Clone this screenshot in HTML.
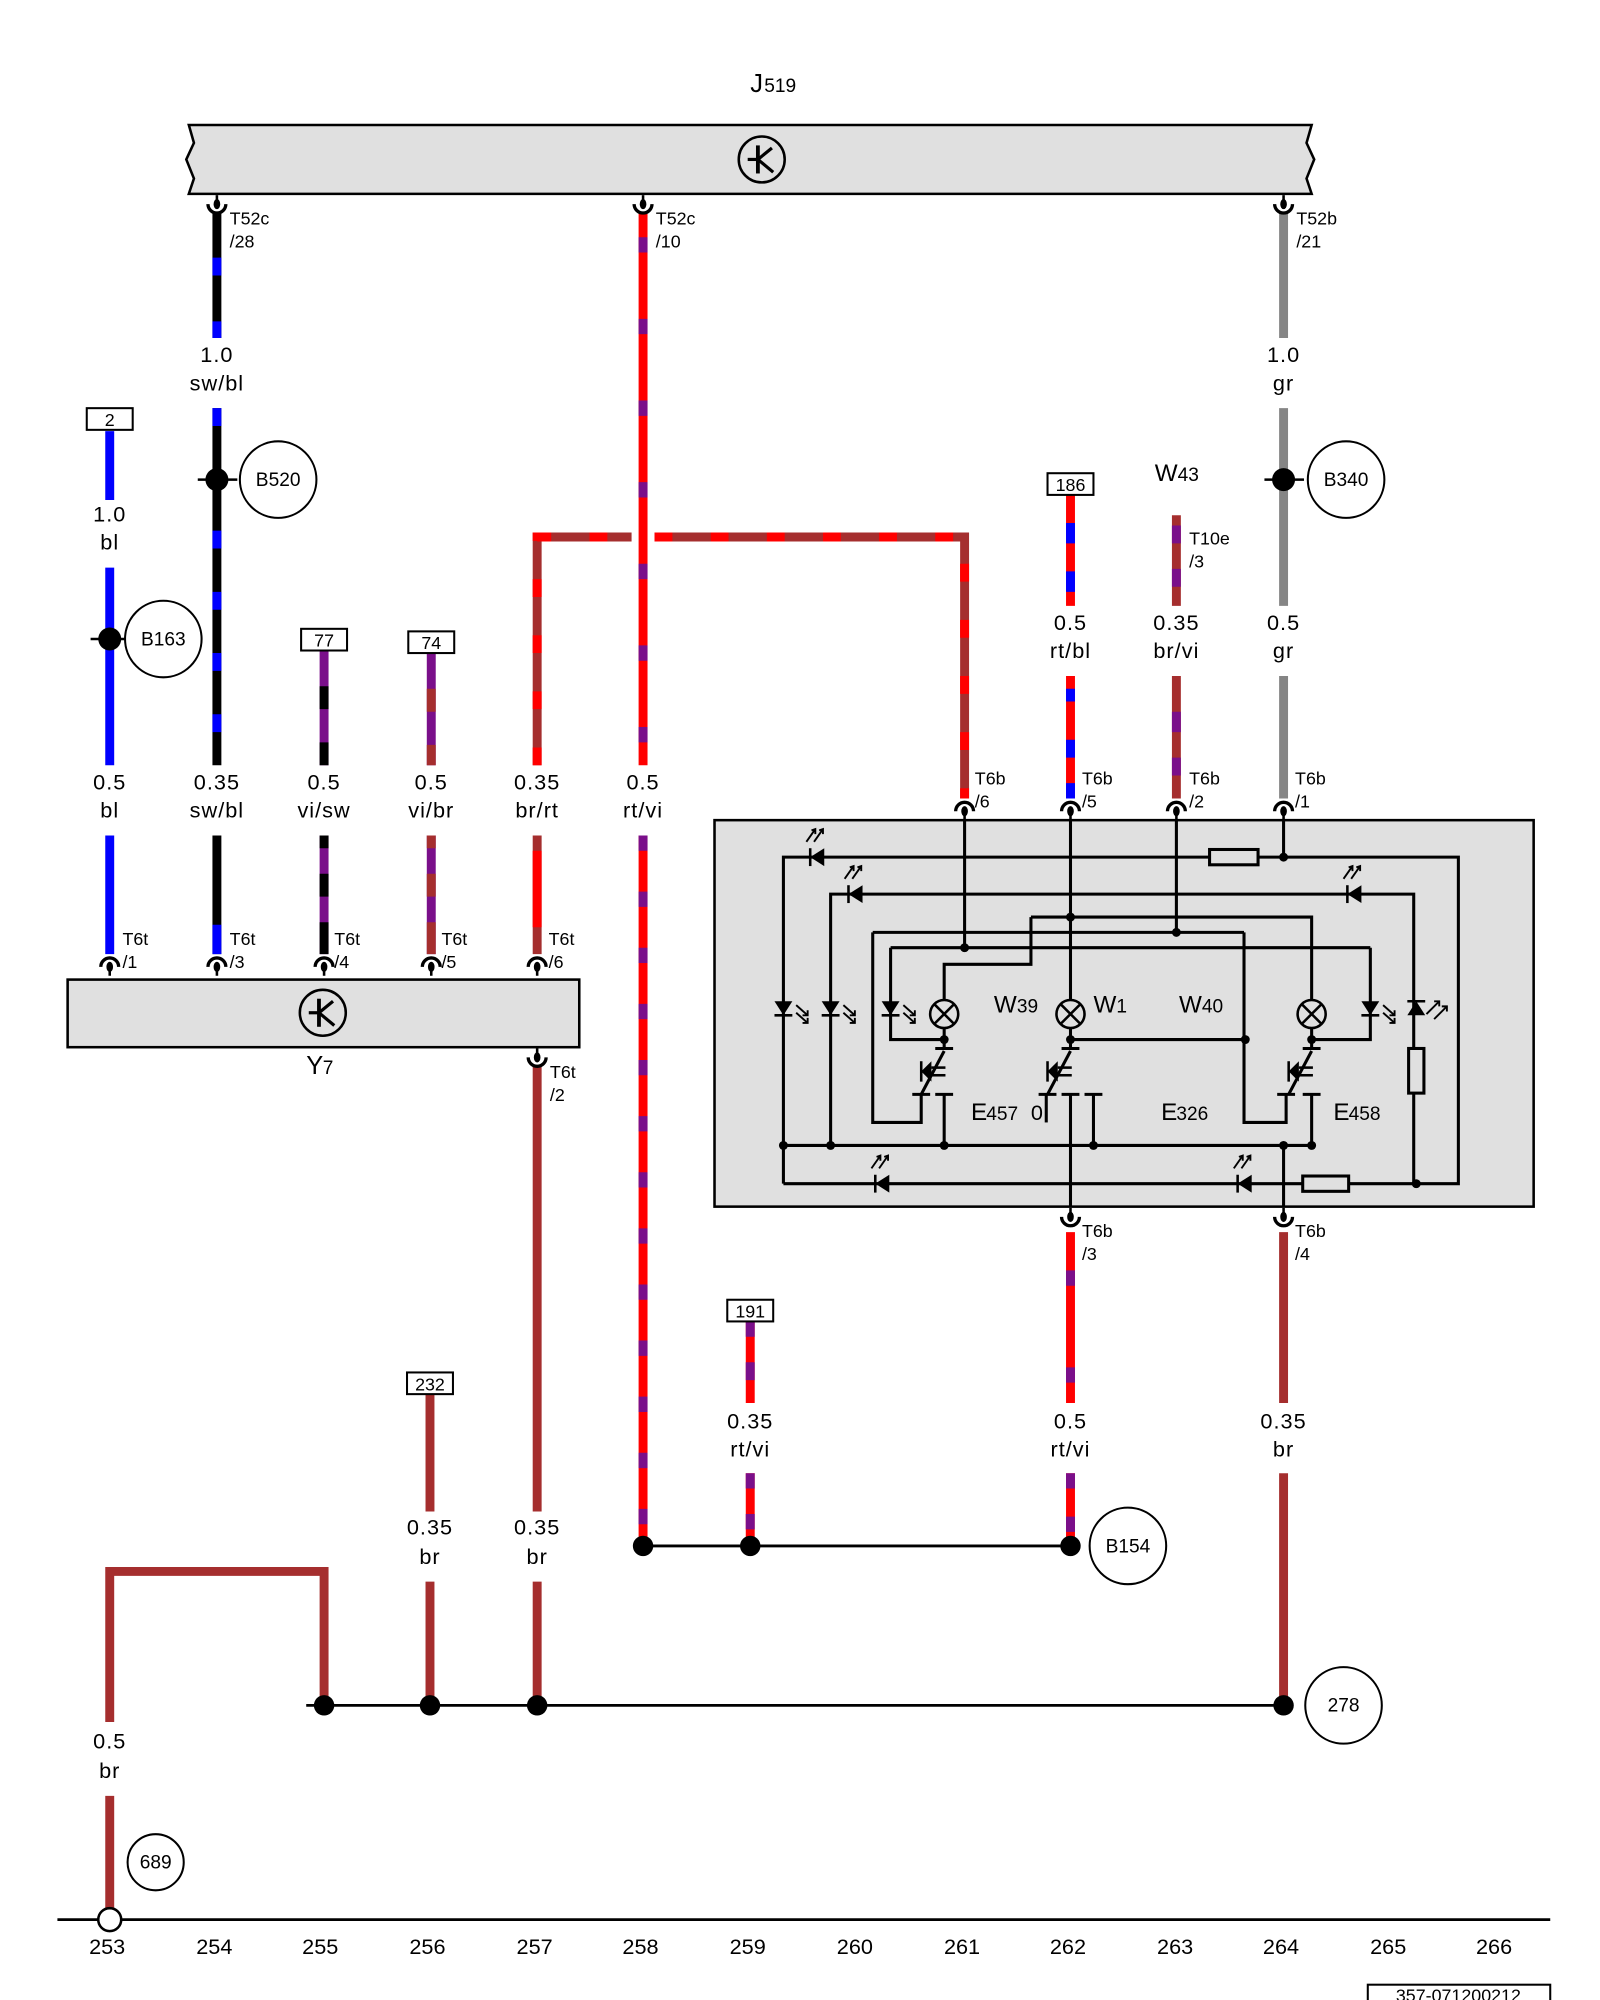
<!DOCTYPE html>
<html><head><meta charset="utf-8"><style>
html,body{margin:0;padding:0;background:#fff}
svg{display:block}
text{font-family:"Liberation Sans",Arial,sans-serif;fill:#000}
.l{font-size:17px;text-anchor:middle;letter-spacing:0.8px}
.s{font-size:14px}
.n{font-size:16px;text-anchor:middle}
.t{stroke:#000;stroke-width:2;fill:none}
.tb{stroke:#000;stroke-width:2.4;fill:none}
</style></head><body>
<svg width="1600" height="2000" viewBox="0 0 1254 1568" preserveAspectRatio="none" xmlns="http://www.w3.org/2000/svg">
<defs>
<g id="sym"><circle cx="0" cy="0" r="18" fill="none" stroke="#000" stroke-width="2"/><line x1="-3" y1="-11" x2="-3" y2="11" stroke="#000" stroke-width="3"/><line x1="-11" y1="0" x2="-3" y2="0" stroke="#000" stroke-width="2.5"/><line x1="-3" y1="0" x2="8" y2="-9" stroke="#000" stroke-width="2.5"/><line x1="-3" y1="0" x2="9" y2="10" stroke="#000" stroke-width="2.5"/></g>
<g id="cd"><path d="M-7,6 A7 7 0 0 1 7,6" fill="none" stroke="#000" stroke-width="2.6"/><ellipse cx="0" cy="6" rx="2.6" ry="4" fill="#000"/><line x1="0" y1="6" x2="0" y2="13" stroke="#000" stroke-width="2"/></g>
<g id="cu"><path d="M-7,-6 A7 7 0 0 0 7,-6" fill="none" stroke="#000" stroke-width="2.6"/><ellipse cx="0" cy="-6" rx="2.6" ry="4" fill="#000"/><line x1="0" y1="-6" x2="0" y2="-13" stroke="#000" stroke-width="2"/></g>
<g id="dl"><path d="M5,-7 L5,7 L-6,0 Z" fill="#000"/><line x1="-6" y1="-7" x2="-6" y2="7" stroke="#000" stroke-width="2"/><g stroke="#000" stroke-width="1.5" fill="none"><line x1="-9" y1="-12" x2="-2" y2="-22"/><line x1="-3" y1="-12" x2="4" y2="-22"/><path d="M-5,-21 L-2,-22 L-2,-18 M1,-21 L4,-22 L4,-18"/></g></g>
<g id="dd"><path d="M-7,-6 L7,-6 L0,5 Z" fill="#000"/><line x1="-7" y1="5" x2="7" y2="5" stroke="#000" stroke-width="2"/><g stroke="#000" stroke-width="1.5" fill="none"><line x1="10" y1="-3" x2="19" y2="5"/><line x1="10" y1="3" x2="19" y2="11"/><path d="M19,1 L19,5 L15,5 M19,7 L19,11 L15,11"/></g></g>
<g id="lamp"><circle r="11" fill="none" stroke="#000" stroke-width="2"/><line x1="-8" y1="-8" x2="8" y2="8" stroke="#000" stroke-width="2"/><line x1="-8" y1="8" x2="8" y2="-8" stroke="#000" stroke-width="2"/></g>
<g id="act"><path d="M-7,-8 L-7,8 L-15,0 Z" fill="#000"/><line x1="-7" y1="-3" x2="4" y2="-3" stroke="#000" stroke-width="2"/><line x1="-7" y1="3" x2="4" y2="3" stroke="#000" stroke-width="2"/><line x1="-15" y1="-8" x2="-15" y2="8" stroke="#000" stroke-width="2"/></g>
</defs>

<!-- J519 -->
<text x="588" y="72" style="font-size:20px">J</text><text x="599" y="72" style="font-size:15px">519</text>
<path d="M148,98 L1028,98 L1024,112 L1030,125 L1024,140 L1028,152 L148,152 L152,140 L146,125 L152,112 Z" fill="#e0e0e0" stroke="#000" stroke-width="2"/>
<use href="#sym" x="597" y="125"/>

<!-- wires: column 170 sw/bl -->
<g stroke-width="7">
<line x1="170" y1="166" x2="170" y2="265" stroke="#000"/><line x1="170" y1="166" x2="170" y2="265" stroke="#00f" stroke-dasharray="0 36 14 0"/>
<line x1="170" y1="320" x2="170" y2="600" stroke="#000"/><line x1="170" y1="320" x2="170" y2="600" stroke="#00f" stroke-dasharray="14 34"/>
<line x1="170" y1="655" x2="170" y2="748" stroke="#000"/><line x1="170" y1="655" x2="170" y2="748" stroke="#00f" stroke-dasharray="0 70 25 100"/>
<!-- col 86 bl -->
<line x1="86" y1="338" x2="86" y2="392" stroke="#00f"/>
<line x1="86" y1="445" x2="86" y2="600" stroke="#00f"/>
<line x1="86" y1="655" x2="86" y2="748" stroke="#00f"/>
<!-- col 254 vi/sw -->
<line x1="254" y1="510" x2="254" y2="600" stroke="#7a0f8a"/><line x1="254" y1="510" x2="254" y2="600" stroke="#000" stroke-dasharray="0 28 18 26 18 20"/>
<line x1="254" y1="655" x2="254" y2="748" stroke="#7a0f8a"/><line x1="254" y1="655" x2="254" y2="748" stroke="#000" stroke-dasharray="10 20 18 20 30 20"/>
<!-- col 338 vi/br -->
<line x1="338" y1="512" x2="338" y2="600" stroke="#7a0f8a"/><line x1="338" y1="512" x2="338" y2="600" stroke="#a52e2e" stroke-dasharray="0 28 18 26 18 20"/>
<line x1="338" y1="655" x2="338" y2="748" stroke="#7a0f8a"/><line x1="338" y1="655" x2="338" y2="748" stroke="#a52e2e" stroke-dasharray="10 20 18 20 30 20"/>
<!-- col 421 br/rt and horizontal -->
<path d="M421,600 L421,421 L495,421" fill="none" stroke="#a52e2e"/>
<path d="M421,600 L421,421 L495,421" fill="none" stroke="#f00" stroke-dasharray="14 30"/>
<path d="M513,421 L756,421 L756,626" fill="none" stroke="#a52e2e"/>
<path d="M513,421 L756,421 L756,626" fill="none" stroke="#f00" stroke-dasharray="14 30"/>
<line x1="421" y1="655" x2="421" y2="748" stroke="#a52e2e"/><line x1="421" y1="655" x2="421" y2="748" stroke="#f00" stroke-dasharray="0 12 60 100"/>
<!-- col 504 rt/vi -->
<line x1="504" y1="166" x2="504" y2="600" stroke="#f00"/><line x1="504" y1="166" x2="504" y2="600" stroke="#7a0f8a" stroke-dasharray="0 20 12 32"/>
<line x1="504" y1="655" x2="504" y2="1212" stroke="#f00"/><line x1="504" y1="655" x2="504" y2="1212" stroke="#7a0f8a" stroke-dasharray="12 32"/>
<!-- col 1006 gr -->
<line x1="1006" y1="166" x2="1006" y2="265" stroke="#858585"/>
<line x1="1006" y1="320" x2="1006" y2="475" stroke="#858585"/>
<line x1="1006" y1="530" x2="1006" y2="626" stroke="#858585"/>
<!-- col 839 rt/bl -->
<line x1="839" y1="388" x2="839" y2="475" stroke="#f00"/><line x1="839" y1="388" x2="839" y2="475" stroke="#00f" stroke-dasharray="0 22 16 22 16 20"/>
<line x1="839" y1="530" x2="839" y2="626" stroke="#f00"/><line x1="839" y1="530" x2="839" y2="626" stroke="#00f" stroke-dasharray="0 10 10 30 14 20 12"/>
<!-- col 922 br/vi -->
<line x1="922" y1="404" x2="922" y2="475" stroke="#a52e2e"/><line x1="922" y1="404" x2="922" y2="475" stroke="#7a0f8a" stroke-dasharray="0 8 14 20 14 20"/>
<line x1="922" y1="530" x2="922" y2="626" stroke="#a52e2e"/><line x1="922" y1="530" x2="922" y2="626" stroke="#7a0f8a" stroke-dasharray="0 28 16 20 14 30"/>
<!-- bottom wires -->
<line x1="421" y1="836" x2="421" y2="1185" stroke="#a52e2e"/>
<line x1="421" y1="1240" x2="421" y2="1337" stroke="#a52e2e"/>
<line x1="337" y1="1093" x2="337" y2="1185" stroke="#a52e2e"/>
<line x1="337" y1="1240" x2="337" y2="1337" stroke="#a52e2e"/>
<line x1="588" y1="1036" x2="588" y2="1100" stroke="#f00"/><line x1="588" y1="1036" x2="588" y2="1100" stroke="#7a0f8a" stroke-dasharray="0 0 12 20 14 30"/>
<line x1="588" y1="1155" x2="588" y2="1212" stroke="#f00"/><line x1="588" y1="1155" x2="588" y2="1212" stroke="#7a0f8a" stroke-dasharray="12 20 12 30"/>
<line x1="839" y1="966" x2="839" y2="1100" stroke="#f00"/><line x1="839" y1="966" x2="839" y2="1100" stroke="#7a0f8a" stroke-dasharray="0 30 12 34"/>
<line x1="839" y1="1155" x2="839" y2="1212" stroke="#f00"/><line x1="839" y1="1155" x2="839" y2="1212" stroke="#7a0f8a" stroke-dasharray="12 22 12 40"/>
<line x1="1006" y1="966" x2="1006" y2="1100" stroke="#a52e2e"/>
<line x1="1006" y1="1155" x2="1006" y2="1337" stroke="#a52e2e"/>
<path d="M254,1337 L254,1232 L86,1232 L86,1350" fill="none" stroke="#a52e2e"/>
<line x1="86" y1="1408" x2="86" y2="1500" stroke="#a52e2e"/>
</g>

<!-- connectors J519 -->
<use href="#cu" x="170" y="166"/><use href="#cu" x="504" y="166"/><use href="#cu" x="1006" y="166"/>
<text class="s" x="180" y="176">T52c</text><text class="s" x="180" y="194">/28</text>
<text class="s" x="514" y="176">T52c</text><text class="s" x="514" y="194">/10</text>
<text class="s" x="1016" y="176">T52b</text><text class="s" x="1016" y="194">/21</text>

<!-- wire labels -->
<text class="l" x="170" y="284">1.0</text><text class="l" x="170" y="306">sw/bl</text>
<text class="l" x="86" y="409">1.0</text><text class="l" x="86" y="431">bl</text>
<text class="l" x="1006" y="284">1.0</text><text class="l" x="1006" y="306">gr</text>
<text class="l" x="86" y="619">0.5</text><text class="l" x="86" y="641">bl</text>
<text class="l" x="170" y="619">0.35</text><text class="l" x="170" y="641">sw/bl</text>
<text class="l" x="254" y="619">0.5</text><text class="l" x="254" y="641">vi/sw</text>
<text class="l" x="338" y="619">0.5</text><text class="l" x="338" y="641">vi/br</text>
<text class="l" x="421" y="619">0.35</text><text class="l" x="421" y="641">br/rt</text>
<text class="l" x="504" y="619">0.5</text><text class="l" x="504" y="641">rt/vi</text>
<text class="l" x="839" y="494">0.5</text><text class="l" x="839" y="516">rt/bl</text>
<text class="l" x="922" y="494">0.35</text><text class="l" x="922" y="516">br/vi</text>
<text class="l" x="1006" y="494">0.5</text><text class="l" x="1006" y="516">gr</text>
<text class="l" x="588" y="1120">0.35</text><text class="l" x="588" y="1142">rt/vi</text>
<text class="l" x="839" y="1120">0.5</text><text class="l" x="839" y="1142">rt/vi</text>
<text class="l" x="1006" y="1120">0.35</text><text class="l" x="1006" y="1142">br</text>
<text class="l" x="337" y="1203">0.35</text><text class="l" x="337" y="1226">br</text>
<text class="l" x="421" y="1203">0.35</text><text class="l" x="421" y="1226">br</text>
<text class="l" x="86" y="1371">0.5</text><text class="l" x="86" y="1394">br</text>

<!-- boxes -->
<g fill="#fff" stroke="#000" stroke-width="1.6">
<rect x="68" y="320" width="36" height="17"/><rect x="236" y="493" width="36" height="17"/><rect x="320" y="495" width="36" height="17"/>
<rect x="821" y="371" width="36" height="17"/><rect x="570" y="1019" width="36" height="17"/><rect x="319" y="1076" width="36" height="17"/>
</g>
<g class="n" style="font-size:14px">
<text x="86" y="334" text-anchor="middle">2</text><text x="254" y="507" text-anchor="middle">77</text><text x="338" y="509" text-anchor="middle">74</text>
<text x="839" y="385" text-anchor="middle">186</text><text x="588" y="1033" text-anchor="middle">191</text><text x="337" y="1090" text-anchor="middle">232</text>
</g>
<text x="905" y="377" style="font-size:19px">W</text><text x="923" y="377" style="font-size:15px">43</text>
<text class="s" x="932" y="427">T10e</text><text class="s" x="932" y="445">/3</text>

<!-- splices -->
<g stroke="#000" stroke-width="2">
<line x1="155" y1="376" x2="186" y2="376"/><line x1="71" y1="501" x2="102" y2="501"/><line x1="991" y1="376" x2="1022" y2="376"/>
</g>
<circle cx="170" cy="376" r="9" fill="#000"/><circle cx="86" cy="501" r="9" fill="#000"/><circle cx="1006" cy="376" r="9" fill="#000"/>
<g fill="#fff" stroke="#000" stroke-width="1.6">
<circle cx="218" cy="376" r="30"/><circle cx="128" cy="501" r="30"/><circle cx="1055" cy="376" r="30"/>
<circle cx="884" cy="1212" r="30"/><circle cx="1053" cy="1337" r="30"/><circle cx="122" cy="1460" r="22"/>
</g>
<g class="n" style="font-size:15px">
<text x="218" y="381">B520</text><text x="128" y="506">B163</text><text x="1055" y="381">B340</text>
<text x="884" y="1217">B154</text><text x="1053" y="1342">278</text><text x="122" y="1465">689</text>
</g>

<!-- Y7 -->
<rect x="53" y="768" width="401" height="53" fill="#e0e0e0" stroke="#000" stroke-width="2"/>
<use href="#sym" x="253" y="794"/>
<text x="240" y="842" style="font-size:20px">Y</text><text x="253" y="842" style="font-size:15px">7</text>
<use href="#cd" x="86" y="752"/><use href="#cd" x="170" y="752"/><use href="#cd" x="254" y="752"/><use href="#cd" x="338" y="752"/><use href="#cd" x="421" y="752"/>
<text class="s" x="96" y="741">T6t</text><text class="s" x="96" y="759">/1</text>
<text class="s" x="180" y="741">T6t</text><text class="s" x="180" y="759">/3</text>
<text class="s" x="262" y="741">T6t</text><text class="s" x="262" y="759">/4</text>
<text class="s" x="346" y="741">T6t</text><text class="s" x="346" y="759">/5</text>
<text class="s" x="430" y="741">T6t</text><text class="s" x="430" y="759">/6</text>
<use href="#cu" x="421" y="835"/>
<text class="s" x="431" y="845">T6t</text><text class="s" x="431" y="863">/2</text>

<!-- inner module -->
<rect x="560" y="643" width="642" height="303" fill="#e0e0e0" stroke="#000" stroke-width="2"/>
<use href="#cd" x="756" y="630"/><use href="#cd" x="839" y="630"/><use href="#cd" x="922" y="630"/><use href="#cd" x="1006" y="630"/>
<text class="s" x="764" y="615">T6b</text><text class="s" x="764" y="633">/6</text>
<text class="s" x="848" y="615">T6b</text><text class="s" x="848" y="633">/5</text>
<text class="s" x="932" y="615">T6b</text><text class="s" x="932" y="633">/2</text>
<text class="s" x="1015" y="615">T6b</text><text class="s" x="1015" y="633">/1</text>
<use href="#cu" x="839" y="960"/><use href="#cu" x="1006" y="960"/>
<text class="s" x="848" y="970">T6b</text><text class="s" x="848" y="988">/3</text>
<text class="s" x="1015" y="970">T6b</text><text class="s" x="1015" y="988">/4</text>

<g class="tb">
<path d="M1006,643 L1006,672"/>
<path d="M614,928 L614,672 L948,672 M986,672 L1143,672 L1143,928 L1057,928 M1021,928 L614,928"/>
<rect x="948" y="666" width="38" height="12"/>
<rect x="1021" y="922" width="36" height="12"/>
<path d="M651,898 L651,701 L1108,701 L1108,822 M1108,857 L1108,928"/>
<rect x="1104" y="822" width="12" height="35"/>
<path d="M614,898 L1028,898"/>
<path d="M839,643 L839,784 M839,806 L839,822 M839,858 L839,946"/>
<path d="M922,643 L922,731 M684,731 L975,731 M684,731 L684,880 L722,880 L722,858 M975,731 L975,880 L1008,880 L1008,858"/>
<path d="M756,643 L756,743 M698,743 L1074,743 M698,743 L698,815 L740,815 M1074,743 L1074,815 L1028,815"/>
<path d="M808,719 L1028,719 L1028,784 M808,719 L808,756 L740,756 L740,784"/>
<path d="M740,806 L740,822 M1028,806 L1028,822 M839,815 L976,815"/>
<path d="M733,822 L747,822 M832,822 L846,822 M1021,822 L1035,822"/>
<path d="M740,824 L722,858 M839,824 L821,858 M1028,824 L1010,858"/>
<path d="M715,858 L729,858 M733,858 L747,858 M740,858 L740,898 M814,858 L828,858 M832,858 L846,858 M850,858 L864,858 M857,858 L857,898 M1001,858 L1015,858 M1021,858 L1035,858 M1028,858 L1028,898"/>
<path d="M820,858 L820,880"/>
</g>
<use href="#lamp" x="740" y="795"/><use href="#lamp" x="839" y="795"/><use href="#lamp" x="1028" y="795"/>
<use href="#act" x="737" y="840"/><use href="#act" x="836" y="840"/><use href="#act" x="1025" y="840"/>
<use href="#dl" x="641" y="672"/><use href="#dl" x="671" y="701"/><use href="#dl" x="1062" y="701"/>
<use href="#dl" x="692" y="928"/><use href="#dl" x="976" y="928"/>
<use href="#dd" x="614" y="791"/><use href="#dd" x="651" y="791"/><use href="#dd" x="698" y="791"/><use href="#dd" x="1074" y="791"/>
<g transform="translate(1110,790) rotate(180)"><path d="M-7,-6 L7,-6 L0,5 Z" fill="#000"/><line x1="-7" y1="5" x2="7" y2="5" stroke="#000" stroke-width="2"/></g>
<g stroke="#000" stroke-width="1.5" fill="none"><line x1="1118" y1="795" x2="1128" y2="785"/><line x1="1124" y1="799" x2="1134" y2="789"/><path d="M1124,785 L1128,785 L1128,789 M1130,789 L1134,789 L1134,793"/></g>
<g fill="#000">
<circle cx="1006" cy="672" r="3.5"/><circle cx="839" cy="719" r="3.5"/><circle cx="922" cy="731" r="3.5"/><circle cx="756" cy="743" r="3.5"/>
<circle cx="740" cy="815" r="3.5"/><circle cx="839" cy="815" r="3.5"/><circle cx="976" cy="815" r="3.5"/><circle cx="1028" cy="815" r="3.5"/>
<circle cx="614" cy="898" r="3.5"/><circle cx="651" cy="898" r="3.5"/><circle cx="740" cy="898" r="3.5"/><circle cx="857" cy="898" r="3.5"/><circle cx="1006" cy="898" r="3.5"/><circle cx="1028" cy="898" r="3.5"/>
<circle cx="1110" cy="928" r="3.5"/>
</g>
<path d="M1006,898 L1006,946" class="tb"/>
<text x="779" y="794" style="font-size:19px">W</text><text x="797" y="794" style="font-size:15px">39</text>
<text x="857" y="794" style="font-size:19px">W</text><text x="875" y="794" style="font-size:15px">1</text>
<text x="924" y="794" style="font-size:19px">W</text><text x="942" y="794" style="font-size:15px">40</text>
<text x="761" y="878" style="font-size:19px">E</text><text x="773" y="878" style="font-size:15px">457</text>
<text x="808" y="878" style="font-size:17px">0</text>
<text x="910" y="878" style="font-size:19px">E</text><text x="922" y="878" style="font-size:15px">326</text>
<text x="1045" y="878" style="font-size:19px">E</text><text x="1057" y="878" style="font-size:15px">458</text>

<!-- ground buses -->
<g stroke="#000" stroke-width="2.2">
<line x1="504" y1="1212" x2="839" y2="1212"/>
<line x1="240" y1="1337" x2="1006" y2="1337"/>
<line x1="45" y1="1505" x2="1215" y2="1505"/>
</g>
<g fill="#000">
<circle cx="504" cy="1212" r="8"/><circle cx="588" cy="1212" r="8"/><circle cx="839" cy="1212" r="8"/>
<circle cx="254" cy="1337" r="8"/><circle cx="337" cy="1337" r="8"/><circle cx="421" cy="1337" r="8"/><circle cx="1006" cy="1337" r="8"/>
</g>
<circle cx="86" cy="1505" r="9" fill="#fff" stroke="#000" stroke-width="2"/>

<g class="n" style="font-size:17px">
<text x="84" y="1532">253</text><text x="168" y="1532">254</text><text x="251" y="1532">255</text><text x="335" y="1532">256</text><text x="419" y="1532">257</text>
<text x="502" y="1532">258</text><text x="586" y="1532">259</text><text x="670" y="1532">260</text><text x="754" y="1532">261</text><text x="837" y="1532">262</text>
<text x="921" y="1532">263</text><text x="1004" y="1532">264</text><text x="1088" y="1532">265</text><text x="1171" y="1532">266</text>
</g>
<rect x="1072" y="1556" width="143" height="20" fill="#fff" stroke="#000" stroke-width="1.6"/>
<text x="1143" y="1569" class="n" style="font-size:14px">357-071200212</text>
</svg>
</body></html>
